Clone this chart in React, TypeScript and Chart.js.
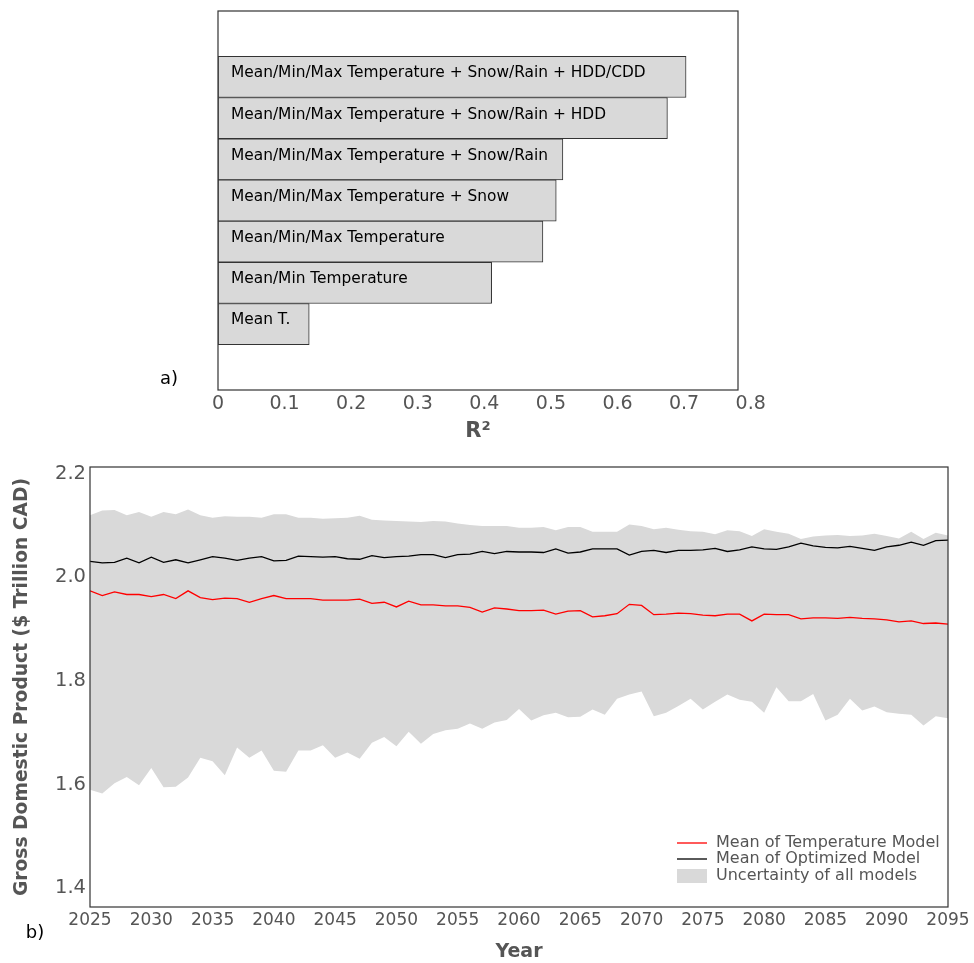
import React, { useEffect, useRef } from 'react';
import { Chart, registerables } from 'chart.js';

Chart.register(...registerables);

// ---- Panel a) data ----
const MODEL_LABELS = [
  'Mean/Min/Max Temperature + Snow/Rain + HDD/CDD',
  'Mean/Min/Max Temperature + Snow/Rain + HDD',
  'Mean/Min/Max Temperature + Snow/Rain',
  'Mean/Min/Max Temperature + Snow',
  'Mean/Min/Max Temperature',
  'Mean/Min Temperature',
  'Mean T.',
];
const R2_VALUES = [0.703, 0.675, 0.518, 0.508, 0.488, 0.411, 0.137];
const R2_TICKS = [0, 0.1, 0.2, 0.3, 0.4, 0.5, 0.6, 0.7, 0.8];

// ---- Panel b) data (2025..2095, yearly) ----
const START_YEAR = 2025;
const TEMP_MODEL_MEAN = [
  1.974, 1.965, 1.972, 1.967, 1.967, 1.963, 1.967, 1.959, 1.974, 1.961, 1.957, 1.960, 1.959, 1.952, 1.959, 1.965, 1.959, 1.959,
  1.959, 1.956, 1.956, 1.956, 1.958, 1.950, 1.952, 1.943, 1.954, 1.947, 1.947, 1.945, 1.945, 1.942, 1.933, 1.941, 1.939, 1.936,
  1.936, 1.937, 1.929, 1.935, 1.936, 1.924, 1.926, 1.930, 1.948, 1.946, 1.928, 1.929, 1.931, 1.930, 1.927, 1.926, 1.929,
  1.929, 1.916, 1.929, 1.928, 1.928, 1.920, 1.922, 1.922, 1.921, 1.923, 1.921, 1.920, 1.918, 1.914, 1.916, 1.911, 1.912, 1.910,
];
const OPTIMIZED_MODEL_MEAN = [
  2.031, 2.028, 2.029, 2.037, 2.028, 2.039, 2.029, 2.034, 2.028, 2.034, 2.040, 2.037, 2.033, 2.037, 2.040, 2.032, 2.033, 2.041,
  2.040, 2.039, 2.040, 2.036, 2.035, 2.042, 2.038, 2.040, 2.041, 2.044, 2.044, 2.038, 2.044, 2.045, 2.050, 2.046, 2.050, 2.049,
  2.049, 2.048, 2.055, 2.047, 2.049, 2.055, 2.055, 2.055, 2.043, 2.050, 2.052, 2.048, 2.052, 2.052, 2.053, 2.056, 2.050,
  2.053, 2.059, 2.055, 2.054, 2.059, 2.066, 2.061, 2.058, 2.057, 2.060, 2.056, 2.052, 2.059, 2.062, 2.068, 2.062, 2.071, 2.072,
];
const UNCERTAINTY_UPPER = [
  2.120, 2.129, 2.130, 2.120, 2.126, 2.117, 2.126, 2.122, 2.131, 2.120, 2.115, 2.118, 2.117, 2.117, 2.115, 2.122, 2.122, 2.115,
  2.115, 2.113, 2.114, 2.115, 2.119, 2.111, 2.110, 2.109, 2.108, 2.107, 2.109, 2.108, 2.104, 2.101, 2.099, 2.099, 2.099, 2.096,
  2.096, 2.097, 2.091, 2.097, 2.097, 2.088, 2.088, 2.088, 2.102, 2.099, 2.093, 2.096, 2.092, 2.089, 2.088, 2.083, 2.091,
  2.089, 2.080, 2.093, 2.088, 2.084, 2.074, 2.079, 2.081, 2.082, 2.080, 2.081, 2.084, 2.080, 2.075, 2.088, 2.074, 2.086, 2.081,
];
const UNCERTAINTY_LOWER = [
  1.590, 1.583, 1.603, 1.615, 1.599, 1.632, 1.595, 1.596, 1.614, 1.652, 1.645, 1.618, 1.672, 1.652, 1.666, 1.627, 1.625, 1.666,
  1.666, 1.676, 1.652, 1.662, 1.650, 1.681, 1.692, 1.674, 1.702, 1.679, 1.698, 1.705, 1.708, 1.718, 1.708, 1.720, 1.725, 1.746,
  1.724, 1.734, 1.739, 1.730, 1.731, 1.745, 1.735, 1.766, 1.774, 1.780, 1.732, 1.739, 1.752, 1.766, 1.745, 1.760, 1.774,
  1.764, 1.760, 1.739, 1.788, 1.761, 1.761, 1.775, 1.724, 1.735, 1.766, 1.743, 1.751, 1.740, 1.737, 1.735, 1.714, 1.732, 1.728,
];
const YEARS = TEMP_MODEL_MEAN.map((_, i) => START_YEAR + i);
const LEGEND_LABELS = ['Mean of Temperature Model', 'Mean of Optimized Model', 'Uncertainty of all models'];

const FONT = "'DejaVu Sans', sans-serif";
const GREY_TEXT = '#555555';
const FILL_GREY = '#d9d9d9';

const framePlugin = {
  id: 'frame',
  afterDraw(chart: any) {
    const { ctx, chartArea: a } = chart;
    ctx.save();
    ctx.strokeStyle = '#333333';
    ctx.lineWidth = 1.2;
    ctx.strokeRect(a.left, a.top, a.right - a.left, a.bottom - a.top);
    ctx.restore();
  },
};

const barLabelPlugin = {
  id: 'barLabels',
  afterDatasetsDraw(chart: any) {
    const { ctx } = chart;
    const meta = chart.getDatasetMeta(0);
    ctx.save();
    ctx.font = `15.4px ${FONT}`;
    ctx.fillStyle = '#000';
    ctx.textBaseline = 'middle';
    ctx.textAlign = 'left';
    meta.data.forEach((el: any, i: number) => {
      const p = el.getProps(['x', 'y', 'base', 'height'], true);
      const left = Math.min(p.x, p.base);
      const top = p.y - p.height / 2;
      ctx.fillText(MODEL_LABELS[i], left + 13, top + 17);
    });
    ctx.font = `18px ${FONT}`;
    ctx.textAlign = 'center';
    ctx.fillText('a)', 169, 379);
    ctx.restore();
  },
};

const legendPlugin = {
  id: 'customLegend',
  afterDraw(chart: any) {
    const { ctx, chartArea: a } = chart;
    const ds = chart.data.datasets;
    const sx = a.right - 271;
    const tx = a.right - 232;
    const rows = [a.bottom - 64, a.bottom - 48, a.bottom - 31];
    ctx.save();
    ctx.font = `16px ${FONT}`;
    ctx.textBaseline = 'middle';
    ctx.textAlign = 'left';
    [0, 1].forEach((k) => {
      ctx.strokeStyle = ds[k].borderColor;
      ctx.lineWidth = 1.3;
      ctx.beginPath();
      ctx.moveTo(sx, rows[k]);
      ctx.lineTo(sx + 30, rows[k]);
      ctx.stroke();
    });
    ctx.fillStyle = ds[3].backgroundColor;
    ctx.fillRect(sx, rows[2] - 7, 30, 14);
    ctx.fillStyle = GREY_TEXT;
    LEGEND_LABELS.forEach((t, k) => ctx.fillText(t, tx, rows[k]));
    ctx.fillStyle = '#000';
    ctx.font = `18px ${FONT}`;
    ctx.textAlign = 'center';
    ctx.fillText('b)', 35, 493);
    ctx.restore();
  },
};

export default function App() {
  const topRef = useRef<HTMLCanvasElement>(null);
  const botRef = useRef<HTMLCanvasElement>(null);

  useEffect(() => {
    const top = new Chart(topRef.current as HTMLCanvasElement, {
      type: 'bar',
      data: {
        datasets: [
          {
            data: R2_VALUES.map((v, i) => ({ x: v, y: i })) as any,
            backgroundColor: FILL_GREY,
            borderColor: '#333333',
            borderWidth: 1,
            borderSkipped: false,
            barPercentage: 1,
            categoryPercentage: 1,
          },
        ],
      },
      options: {
        indexAxis: 'y',
        responsive: false,
        animation: false,
        layout: { padding: { left: 218, right: 236, top: 11, bottom: 0 } },
        plugins: { legend: { display: false }, tooltip: { enabled: false } },
        scales: {
          x: {
            type: 'linear',
            min: 0,
            max: 0.781,
            grid: { display: false, drawTicks: false },
            border: { display: false },
            ticks: {
              autoSkip: false,
              includeBounds: false,
              padding: 3,
              color: GREY_TEXT,
              font: { family: FONT, size: 19 },
              callback: (v: any) => (Number(v) === 0 ? '0' : Number(v).toFixed(1)),
            },
            afterBuildTicks: (s: any) => {
              s.ticks = R2_TICKS.map((v) => ({ value: v }));
            },
            afterFit: (s: any) => {
              s.height = 60;
            },
            title: {
              display: true,
              text: 'R²',
              color: GREY_TEXT,
              font: { family: FONT, size: 21, weight: 'bold' },
              padding: { top: 0, bottom: 6 },
            },
          },
          y: {
            type: 'linear',
            reverse: true,
            offset: false,
            min: -1.6,
            max: 7.6,
            ticks: { stepSize: 1, includeBounds: false },
            grid: { offset: false },
            display: false,
          },
        },
      } as any,
      plugins: [framePlugin, barLabelPlugin],
    });

    const bot = new Chart(botRef.current as HTMLCanvasElement, {
      type: 'line',
      data: {
        datasets: [
          {
            label: LEGEND_LABELS[0],
            data: YEARS.map((x, i) => ({ x, y: TEMP_MODEL_MEAN[i] })),
            borderColor: '#ff0000',
            borderWidth: 1.3,
            pointRadius: 0,
            fill: false,
            tension: 0,
          },
          {
            label: LEGEND_LABELS[1],
            data: YEARS.map((x, i) => ({ x, y: OPTIMIZED_MODEL_MEAN[i] })),
            borderColor: '#000000',
            borderWidth: 1.3,
            pointRadius: 0,
            fill: false,
            tension: 0,
          },
          {
            label: 'lower',
            data: YEARS.map((x, i) => ({ x, y: UNCERTAINTY_LOWER[i] })),
            borderColor: 'rgba(0,0,0,0)',
            backgroundColor: 'rgba(0,0,0,0)',
            borderWidth: 0,
            pointRadius: 0,
            fill: false,
            tension: 0,
          },
          {
            label: LEGEND_LABELS[2],
            data: YEARS.map((x, i) => ({ x, y: UNCERTAINTY_UPPER[i] })),
            borderColor: 'rgba(0,0,0,0)',
            backgroundColor: FILL_GREY,
            borderWidth: 0,
            pointRadius: 0,
            fill: '-1',
            tension: 0,
          },
        ],
      },
      options: {
        responsive: false,
        animation: false,
        layout: { padding: { left: 0, right: 26, top: 27, bottom: 0 } },
        plugins: { legend: { display: false }, tooltip: { enabled: false } },
        scales: {
          x: {
            type: 'linear',
            min: 2025,
            max: 2095,
            grid: { display: false, drawTicks: false },
            border: { display: false },
            ticks: {
              stepSize: 5,
              includeBounds: false,
              autoSkip: false,
              maxRotation: 0,
              padding: 3,
              color: GREY_TEXT,
              font: { family: FONT, size: 17 },
              callback: (v: any) => String(v),
            },
            afterFit: (s: any) => {
              s.height = 56;
            },
            title: {
              display: true,
              text: 'Year',
              color: GREY_TEXT,
              font: { family: FONT, size: 19, weight: 'bold', lineHeight: 1 },
              padding: { top: 0, bottom: 1 },
            },
          },
          y: {
            type: 'linear',
            min: 1.364,
            max: 2.213,
            grid: { display: false, drawTicks: false },
            border: { display: false },
            ticks: {
              stepSize: 0.2,
              includeBounds: false,
              padding: 4,
              color: GREY_TEXT,
              font: { family: FONT, size: 19.5 },
              callback: (v: any) => Number(v).toFixed(1),
            },
            afterFit: (s: any) => {
              s.width = 90;
            },
            title: {
              display: true,
              text: 'Gross Domestic Product ($ Trillion CAD)',
              color: GREY_TEXT,
              font: { family: FONT, size: 18.7, weight: 'bold' },
              padding: { top: 11, bottom: 0 },
            },
          },
        },
      } as any,
      plugins: [framePlugin, legendPlugin],
    });

    return () => {
      top.destroy();
      bot.destroy();
    };
  }, []);

  return (
    <div style={{ position: 'absolute', left: 0, top: 0, width: 974, height: 963, background: '#fff' }}>
      <canvas ref={topRef} width={974} height={450} style={{ position: 'absolute', left: 0, top: 0 }} />
      <canvas ref={botRef} width={974} height={523} style={{ position: 'absolute', left: 0, top: 440 }} />
    </div>
  );
}
